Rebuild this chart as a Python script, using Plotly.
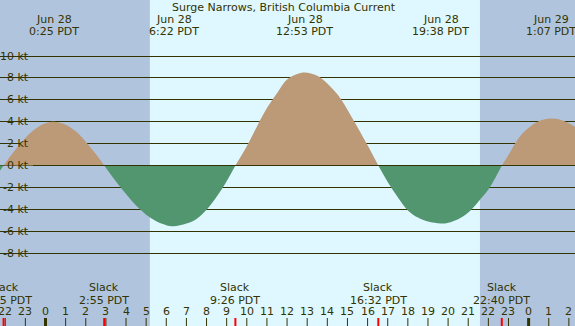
import plotly.graph_objects as go

W, H = 575, 326
TXT = "#333300"
FONT = "DejaVu Sans"

title = "Surge Narrows, British Columbia Current"

# current speed: hours from Jun 28 00:00 PDT, knots (+ flood / - ebb)
hours = [-2.6, -2.083, -1.5, -1.0, -0.5, 0.0, 0.417, 1.0, 1.5, 2.0, 2.5, 2.917,
         3.5, 4.0, 4.5, 5.0, 5.5, 6.0, 6.367, 7.0, 7.5, 8.0, 8.5, 9.0, 9.433,
         10.0, 10.5, 11.0, 11.5, 12.0, 12.5, 12.883, 13.5, 14.0, 14.5, 15.0, 15.5, 16.0, 16.533,
         17.0, 17.5, 18.0, 18.5, 19.0, 19.633, 20.0, 20.5, 21.0, 21.5, 22.0, 22.5, 22.667,
         23.0, 23.5, 24.0, 24.5, 25.117, 25.5, 26.0, 26.5]
speed = [-1.4, 0.0, 1.43, 2.52, 3.35, 3.86, 4.0, 3.73, 3.12, 2.18, 1.04, 0.0,
         -1.46, -2.6, -3.66, -4.5, -5.1, -5.45, -5.55, -5.3, -4.88, -4.05, -2.85, -1.43, 0.0,
         1.75, 3.55, 5.25, 6.6, 7.85, 8.35, 8.49, 8.2, 7.5, 6.5, 5.1, 3.5, 1.85, 0.0,
         -1.5, -2.9, -4.1, -4.75, -5.12, -5.3, -5.22, -4.9, -4.3, -3.3, -2.2, -0.6, 0.0,
         0.97, 2.5, 3.45, 4.05, 4.29, 4.22, 3.85, 3.3]

# max flood / max ebb events
ext_dates = ["Jun 28", "Jun 28", "Jun 28", "Jun 28", "Jun 29"]
ext_times = ["0:25", "6:22", "12:53", "19:38", "1:07"]
ext_days = [0, 0, 0, 0, 1]

# slack events
slack_times = ["21:55", "2:55", "9:26", "16:32", "22:40"]
slack_days = [-1, 0, 0, 0, 0]

sunrise = "5:11"
sunset = "21:35"

y_ticks = [10, 8, 6, 4, 2, 0, -2, -4, -6, -8]
hour_ticks = list(range(-2, 27))

FLOOD = "#BC9A78"
EBB = "#52966F"
NIGHT = "#B0C4DE"
DAY = "#DFF7FF"


def to_h(s, day=0):
    h, m = s.split(":")
    return day * 24 + int(h) + int(m) / 60.0


# pixel geometry of the axes
x0_px, px_per_h = 45.5, 20.13
y0_px, px_per_kt = 165.5, 10.95
x_lo = -x0_px / px_per_h
x_hi = (W - x0_px) / px_per_h
y_hi = y0_px / px_per_kt
y_lo = (y0_px - H) / px_per_kt

fig = go.Figure()

# split the curve into flood / ebb lobes at the slack (zero) points
segs = []
cur = []
for t, v in zip(hours, speed):
    cur.append((t, v))
    if v == 0 and len(cur) > 1:
        segs.append(cur)
        cur = [(t, v)]
if len(cur) > 1:
    segs.append(cur)

for seg in segs:
    xs = [p[0] for p in seg]
    ys = [p[1] for p in seg]
    pos = sum(ys) > 0
    fig.add_trace(go.Scatter(
        x=xs, y=ys, mode="lines", line=dict(width=0, shape="spline", color=FLOOD if pos else EBB),
        fill="tozeroy", fillcolor=FLOOD if pos else EBB, hoverinfo="skip", showlegend=False))

shapes = []
# night shading
shapes.append(dict(type="rect", xref="x", yref="paper", x0=x_lo - 1, x1=to_h(sunrise), y0=0, y1=1,
                   fillcolor=NIGHT, line=dict(width=0), layer="below"))
shapes.append(dict(type="rect", xref="x", yref="paper", x0=to_h(sunset), x1=x_hi + 1, y0=0, y1=1,
                   fillcolor=NIGHT, line=dict(width=0), layer="below"))
# cover grid lines under the y labels
shapes.append(dict(type="rect", xref="paper", yref="paper", x0=-0.01, x1=33 / W, y0=0, y1=1,
                   fillcolor=NIGHT, line=dict(width=0), layer="between"))
# zero line above fills
shapes.append(dict(type="line", xref="paper", yref="y", x0=33 / W, x1=1, y0=0, y1=0,
                   line=dict(color=TXT, width=1), layer="above"))

tick_h = 8 / H
for h in hour_ticks:
    mid = (h % 24 == 0)
    shapes.append(dict(type="line", xref="x", yref="paper", x0=h, x1=h, y0=0, y1=tick_h,
                       line=dict(color=TXT, width=3 if mid else 1), layer="above"))
for s, d in zip(slack_times, slack_days):
    t = to_h(s, d)
    shapes.append(dict(type="line", xref="x", yref="paper", x0=t, x1=t, y0=0, y1=tick_h,
                       line=dict(color="#FF0000", width=2), layer="above"))

ann = []
f = dict(family=FONT, size=11, color=TXT)


def py(px):
    return 1 - px / H


ann.append(dict(x=284 / W, xref="paper", y=py(7.5), yref="paper", text=title, showarrow=False,
                xanchor="center", yanchor="middle", font=f))
for dte, tm, d in zip(ext_dates, ext_times, ext_days):
    t = to_h(tm, d)
    ann.append(dict(x=t, xref="x", y=py(19.5), yref="paper", text=dte, showarrow=False,
                    xanchor="center", yanchor="middle", font=f))
    ann.append(dict(x=t, xref="x", y=py(31.7), yref="paper", text=tm + " PDT", showarrow=False,
                    xanchor="center", yanchor="middle", font=f))
for s, d in zip(slack_times, slack_days):
    t = to_h(s, d)
    ann.append(dict(x=t, xref="x", y=py(287.7), yref="paper", text="Slack", showarrow=False,
                    xanchor="center", yanchor="middle", font=f))
    ann.append(dict(x=t, xref="x", y=py(300), yref="paper", text=s + " PDT", showarrow=False,
                    xanchor="center", yanchor="middle", font=f))
for h in hour_ticks:
    ann.append(dict(x=h, xref="x", y=py(311.7), yref="paper", text=str(h % 24), showarrow=False,
                    xanchor="center", yanchor="middle", font=f))
for v in y_ticks:
    ann.append(dict(x=31 / W, xref="paper", y=v, yref="y", text=f"{v} kt", showarrow=False,
                    xanchor="right", yanchor="middle", font=f))

fig.update_layout(
    width=W, height=H, autosize=False,
    margin=dict(l=0, r=0, t=0, b=0, pad=0),
    paper_bgcolor=NIGHT, plot_bgcolor=DAY,
    xaxis=dict(range=[x_lo, x_hi], showgrid=False, zeroline=False, showticklabels=False,
               ticks="", showline=False, fixedrange=True),
    yaxis=dict(range=[y_lo, y_hi], tickmode="array", tickvals=y_ticks, showgrid=True,
               gridcolor=TXT, gridwidth=1, zeroline=False, showticklabels=False, ticks="",
               showline=False, fixedrange=True),
    shapes=shapes, annotations=ann, showlegend=False,
)

fig.write_html("out.html", config={"displayModeBar": False},
               post_script="document.body.style.margin='0';document.body.style.overflow='hidden';")
